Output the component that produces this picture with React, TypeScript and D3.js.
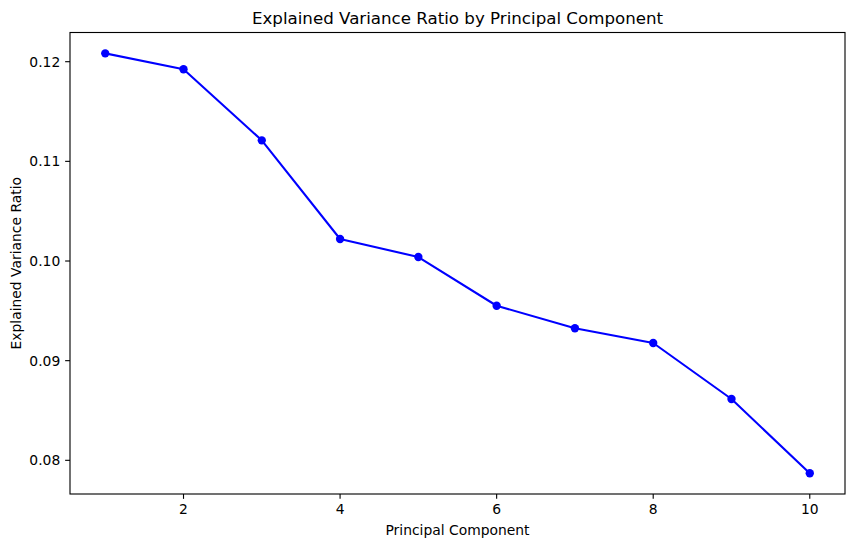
import React from "react";
import * as d3 from "d3";

const components = [1, 2, 3, 4, 5, 6, 7, 8, 9, 10];
const varianceRatio = [0.12084, 0.11924, 0.11211, 0.10221, 0.1004, 0.09551, 0.09325, 0.09177, 0.08615, 0.0787];
const xTicks = [2, 4, 6, 8, 10];
const yTicks = [0.08, 0.09, 0.1, 0.11, 0.12];

const W = 855;
const H = 547;
const M = { left: 70, right: 845, top: 32.5, bottom: 494 };
const FONT = "DejaVu Sans, sans-serif";
const FS = 13.89;

export default function App() {
  const x = d3.scaleLinear().domain([0.55, 10.45]).range([M.left, M.right]);
  const y = d3.scaleLinear().domain([0.07662, 0.12293]).range([M.bottom, M.top]);
  const line = d3
    .line<number>()
    .x((_, i) => x(components[i]))
    .y((d) => y(d));
  const tl = 4.86;
  return (
    <div style={{ position: "fixed", left: 0, top: 0 }}>
      <svg width={W} height={H} style={{ display: "block", background: "#fff" }}>
        <text x={(M.left + M.right) / 2} y={24} textAnchor="middle" fontFamily={FONT} fontSize={16.67}>
          Explained Variance Ratio by Principal Component
        </text>
        <path d={line(varianceRatio) || ""} fill="none" stroke="#0000ff" strokeWidth={2.08} strokeLinejoin="round" strokeLinecap="square" />
        {varianceRatio.map((v, i) => (
          <circle key={i} cx={x(components[i])} cy={y(v)} r={4.17} fill="#0000ff" />
        ))}
        <rect x={M.left} y={M.top} width={M.right - M.left} height={M.bottom - M.top} fill="none" stroke="#000" strokeWidth={1.11} />
        {xTicks.map((t) => (
          <g key={t}>
            <line x1={x(t)} x2={x(t)} y1={M.bottom} y2={M.bottom + tl} stroke="#000" strokeWidth={1.11} />
            <text x={x(t)} y={M.bottom + tl + 4.86 + 10.6} textAnchor="middle" fontFamily={FONT} fontSize={FS}>
              {t}
            </text>
          </g>
        ))}
        {yTicks.map((t) => (
          <g key={t}>
            <line x1={M.left - tl} x2={M.left} y1={y(t)} y2={y(t)} stroke="#000" strokeWidth={1.11} />
            <text x={M.left - tl - 4.86} y={y(t)} dy="0.36em" textAnchor="end" fontFamily={FONT} fontSize={FS}>
              {t.toFixed(2)}
            </text>
          </g>
        ))}
        <text x={(M.left + M.right) / 2} y={535} textAnchor="middle" fontFamily={FONT} fontSize={FS}>
          Principal Component
        </text>
        <text
          transform={`translate(20.5, ${(M.top + M.bottom) / 2}) rotate(-90)`}
          textAnchor="middle"
          fontFamily={FONT}
          fontSize={FS}
        >
          Explained Variance Ratio
        </text>
      </svg>
    </div>
  );
}
